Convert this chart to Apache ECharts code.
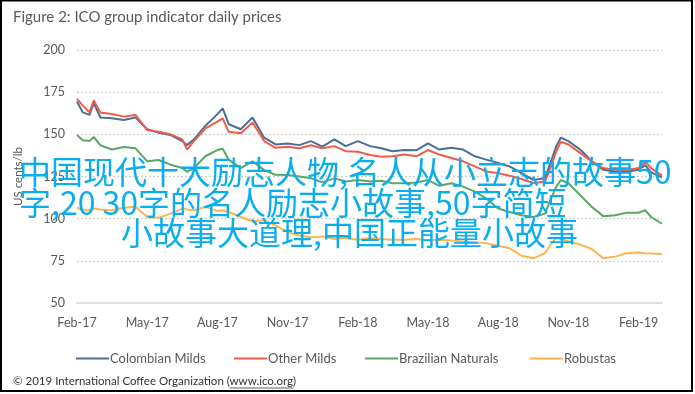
<!DOCTYPE html>
<html><head><meta charset="utf-8">
<script src="https://cdn.jsdelivr.net/npm/echarts@6/dist/echarts.min.js"></script>
<style>html,body{margin:0;padding:0;background:#fff}#c{width:695px;height:394px}</style>
</head><body><div id="c"></div>
<script>
const dates = ['2017-02-01','2017-02-08','2017-02-16','2017-02-21','2017-03-01','2017-03-16','2017-04-01','2017-04-16','2017-05-01','2017-05-16',
 '2017-06-01','2017-06-16','2017-06-22','2017-07-01','2017-07-16','2017-08-01','2017-08-08','2017-08-16','2017-09-01','2017-09-16',
 '2017-10-01','2017-10-16','2017-11-01','2017-11-16','2017-12-01','2017-12-16','2018-01-01','2018-01-16','2018-02-01','2018-02-16',
 '2018-03-01','2018-03-16','2018-04-01','2018-04-16','2018-05-01','2018-05-16','2018-06-01','2018-06-16','2018-07-01','2018-07-16',
 '2018-08-01','2018-08-16','2018-09-01','2018-09-16','2018-10-01','2018-10-09','2018-10-16','2018-10-22','2018-11-01','2018-11-16',
 '2018-12-01','2018-12-16','2019-01-01','2019-01-16','2019-02-01','2019-02-09','2019-02-16','2019-03-01'];
const colombianMilds = [169.5,163,161.5,168.5,160,159.5,158.5,160,153,151,
 149.6,146,143.6,147,155,162,165.4,156,153,160,
 148,144,144.5,143.6,146,142.7,147,143,146,143,
 141.7,140,140.7,140.5,144.6,141,142,141,137,135,
 133,131,127,123,124,134,143,148,146,141,
 134,129,128,127.8,129,131.8,127.5,124.5];
const otherMilds = [171,167,163,170,163,162,160.5,161.5,152.5,151.5,
 150,147,141,146,153.5,157.5,159.5,151.5,150.6,157,
 146,142,142.7,141.7,143.5,141.7,143,140,139.7,137.7,
 136.7,137,138,137,140.7,138,136,134,131,128,
 127,125.5,123.5,121,122,131,140,145.5,144,139,
 134,130,129,128.8,130,133.8,130,125.5];
const brazilianNaturals = [149.6,146.5,146,148.5,143.5,141,142.5,141.7,134,134.8,
 132,130,127.8,130,137,140.7,141.5,135,130,134,
 128.8,126,125.9,125,124,121.5,123.9,122,122.9,122,
 122.5,121,121,121.5,122.9,119.5,121,119,116,112,
 106,104,102,101,103,112,119,122.9,121,114,
 107,101.5,102,103.5,103.5,105,101,97];
const robustas = [106.5,105,105,106,105.5,105,106.5,107,101,100.5,
 103,106,105.5,105,107,104.5,105,104,101,98.5,
 99,96,92,90,89,89.5,88,88.5,87.5,88.5,
 88,87.5,87.5,88,87,87.5,87,86.5,86,85.5,
 84,82.5,78,76.5,79.5,85,88.6,88,86.6,84.6,
 82,76.5,77.5,79.5,80,79.5,79.3,79];
const tickLabels = ['Feb-17','May-17','Aug-17','Nov-17','Feb-18','May-18','Aug-18','Nov-18','Feb-19'];
const seriesNames = ['Colombian Milds','Other Milds','Brazilian Naturals','Robustas'];
const overlayLines = ['中国现代十大励志人物,名人从小立志的故事50','字,20 30字的名人励志小故事,50字简短','小故事大道理,中国正能量小故事'];
const footerPre = '© 2019 International Coffee Organization (';
const footerLink = 'www.ico.org';

function monthIndex(s){
  const [y,m,d] = s.split('-').map(Number);
  const dim = new Date(y, m, 0).getDate();
  return (y-2017)*12 + (m-2) + (d-1)/dim;
}
function pts(vals){ return dates.map((d,i)=>[monthIndex(d), vals[i]]); }

const colors = {'Colombian Milds':'#4b6f93','Other Milds':'#f25a4a','Brazilian Naturals':'#5aa862','Robustas':'#fdb44e'};
const valsBy = {'Colombian Milds':colombianMilds,'Other Milds':otherMilds,'Brazilian Naturals':brazilianNaturals,'Robustas':robustas};
const drawOrder = ['Robustas','Brazilian Naturals','Colombian Milds','Other Milds'];
const font = 'Lato, "Open Sans", sans-serif';
const legendLefts = [71,229,360,525];

const footFont = '11.5px ' + font;
const mctx = document.createElement('canvas').getContext('2d');
mctx.font = footFont;
const footX = 13;
const ulX1 = footX + mctx.measureText(footerPre).width;
const ulX2 = ulX1 + mctx.measureText(footerLink).width;

const ovFont = '32px "Noto Sans CJK SC"';
const ovColor = '#0aaeee';

const chart = echarts.init(document.getElementById('c'), null, {renderer:'canvas'});
chart.setOption({
  animation:false,
  backgroundColor:'#fff',
  title:{text:'Figure 2: ICO group indicator daily prices',left:8,top:5,
    textStyle:{fontFamily:font,fontSize:15,fontWeight:'normal',color:'#595959'}},
  grid:{left:77,right:33,top:50,bottom:91},
  legend: seriesNames.map((n,i)=>({data:[n],left:legendLefts[i],top:347,itemWidth:33,itemHeight:2,itemGap:0,
    icon:'rect',textStyle:{fontFamily:font,fontSize:13,color:'#595959',padding:[0,0,0,-4]}})),
  xAxis:{type:'value',min:0,max:25,interval:3,
    axisLine:{show:true,lineStyle:{color:'#d9d9d9',width:1.5}},
    axisTick:{show:false},splitLine:{show:false},
    axisLabel:{margin:13,fontFamily:font,fontSize:12.5,color:'#595959',
      formatter:v=>{const i=Math.round(v/3); return (Math.abs(v-i*3)<1e-6 && tickLabels[i])?tickLabels[i]:'';}}},
  yAxis:{type:'value',min:50,max:200,interval:25,
    name:'US cents/lb',nameLocation:'middle',nameGap:53,
    nameTextStyle:{fontFamily:font,fontSize:11.5,color:'#595959'},
    axisLine:{show:false},axisTick:{show:false},
    axisLabel:{margin:12,fontFamily:font,fontSize:12.5,color:'#595959'},
    splitLine:{lineStyle:{color:'#cfcfcf',type:[2,2],width:1.3}}},
  series: drawOrder.map(n=>({name:n,type:'line',data:pts(valsBy[n]),showSymbol:false,
    lineStyle:{width:2,color:colors[n]},itemStyle:{color:colors[n]}})),
  graphic:[
    {type:'rect',shape:{x:1,y:0.5,width:691,height:390.5},style:{fill:'none',stroke:'#000',lineWidth:2},silent:true,z:100},
    {type:'text',x:footX,y:381,style:{text:footerPre+footerLink+')',font:footFont,fill:'#333',textVerticalAlign:'middle',verticalAlign:'middle'},z:100},
    {type:'line',shape:{x1:ulX1,y1:388,x2:ulX2,y2:388},style:{stroke:'#333',lineWidth:0.8},z:100},
    {type:'text',x:19,y:172,style:{text:overlayLines[0],font:ovFont,fill:ovColor,textVerticalAlign:'middle',verticalAlign:'middle'},z:200},
    {type:'text',x:19,y:203,style:{text:overlayLines[1],font:ovFont,fill:ovColor,textVerticalAlign:'middle',verticalAlign:'middle'},z:200},
    {type:'text',x:121,y:233,style:{text:overlayLines[2],font:ovFont,fill:ovColor,textVerticalAlign:'middle',verticalAlign:'middle'},z:200}
  ]
});
</script></body></html>
